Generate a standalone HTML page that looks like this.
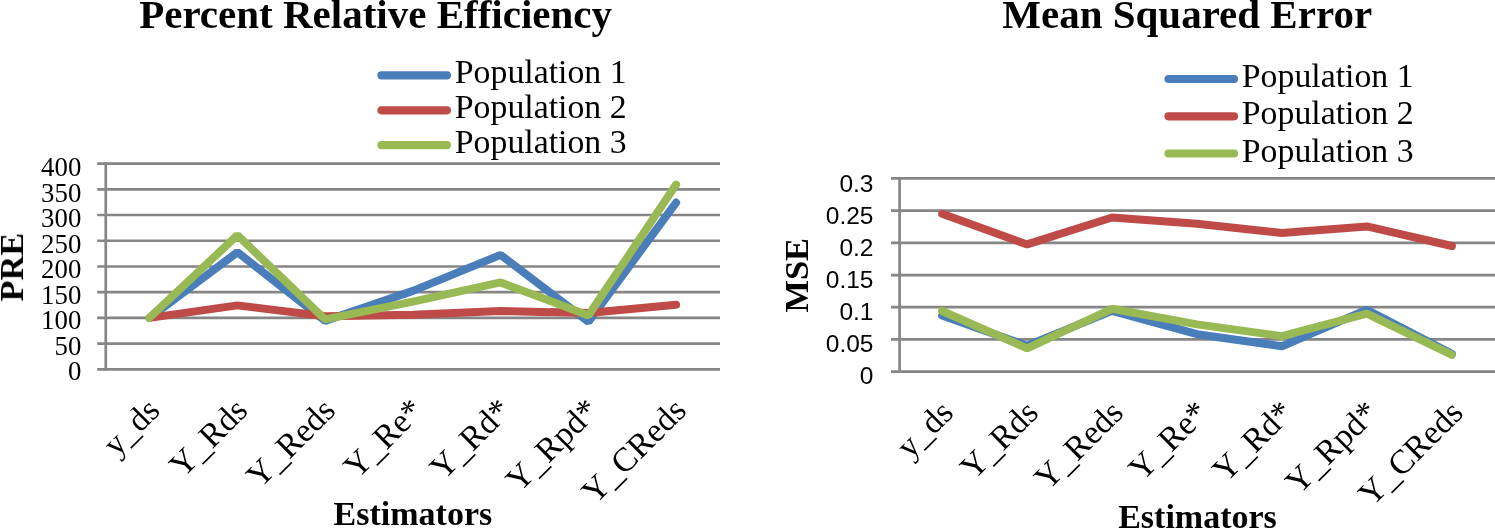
<!DOCTYPE html>
<html><head><meta charset="utf-8"><title>Charts</title>
<style>html,body{margin:0;padding:0;background:#fff;}svg{display:block}</style>
</head><body>
<svg width="1495" height="529" viewBox="0 0 1495 529">
<rect width="1495" height="529" fill="#fff"/>
<g style="opacity:0.999">
<line x1="97.2" y1="369.40" x2="720" y2="369.40" stroke="#868686" stroke-width="2.7"/>
<line x1="97.2" y1="343.67" x2="720" y2="343.67" stroke="#868686" stroke-width="2.7"/>
<line x1="97.2" y1="317.94" x2="720" y2="317.94" stroke="#868686" stroke-width="2.7"/>
<line x1="97.2" y1="292.21" x2="720" y2="292.21" stroke="#868686" stroke-width="2.7"/>
<line x1="97.2" y1="266.48" x2="720" y2="266.48" stroke="#868686" stroke-width="2.7"/>
<line x1="97.2" y1="240.75" x2="720" y2="240.75" stroke="#868686" stroke-width="2.7"/>
<line x1="97.2" y1="215.02" x2="720" y2="215.02" stroke="#868686" stroke-width="2.7"/>
<line x1="97.2" y1="189.29" x2="720" y2="189.29" stroke="#868686" stroke-width="2.7"/>
<line x1="97.2" y1="163.56" x2="720" y2="163.56" stroke="#868686" stroke-width="2.7"/>
<line x1="105.75" y1="162.21" x2="105.75" y2="370.75" stroke="#868686" stroke-width="2.7"/>
<polyline points="149.6,317.9 237.4,252.2 325.1,320.9 412.9,290.9 500.6,254.9 588.4,321.8 676.1,202.6" fill="none" stroke="#4a7ebb" stroke-width="8.0" stroke-linejoin="bevel" stroke-linecap="round"/>
<polyline points="149.6,317.9 237.4,305.4 325.1,316.2 412.9,314.7 500.6,311.0 588.4,313.0 676.1,304.8" fill="none" stroke="#be4b48" stroke-width="8.0" stroke-linejoin="bevel" stroke-linecap="round"/>
<polyline points="149.6,317.7 237.4,235.2 325.1,319.3 412.9,301.6 500.6,282.4 588.4,315.4 676.1,184.6" fill="none" stroke="#98b954" stroke-width="8.0" stroke-linejoin="bevel" stroke-linecap="round"/>
<line x1="891" y1="371.60" x2="1495" y2="371.60" stroke="#868686" stroke-width="2.7"/>
<line x1="891" y1="339.41" x2="1495" y2="339.41" stroke="#868686" stroke-width="2.7"/>
<line x1="891" y1="307.22" x2="1495" y2="307.22" stroke="#868686" stroke-width="2.7"/>
<line x1="891" y1="275.03" x2="1495" y2="275.03" stroke="#868686" stroke-width="2.7"/>
<line x1="891" y1="242.84" x2="1495" y2="242.84" stroke="#868686" stroke-width="2.7"/>
<line x1="891" y1="210.65" x2="1495" y2="210.65" stroke="#868686" stroke-width="2.7"/>
<line x1="891" y1="178.46" x2="1495" y2="178.46" stroke="#868686" stroke-width="2.7"/>
<line x1="899.6" y1="177.11" x2="899.6" y2="372.95" stroke="#868686" stroke-width="2.7"/>
<polyline points="942.1,315.5 1027.1,345.8 1112.0,310.8 1197.0,334.2 1282.0,346.2 1366.9,309.8 1451.9,353.9" fill="none" stroke="#4a7ebb" stroke-width="8.0" stroke-linejoin="bevel" stroke-linecap="round"/>
<polyline points="942.1,213.8 1027.1,244.4 1112.0,217.5 1197.0,223.7 1282.0,233.0 1366.9,226.4 1451.9,246.0" fill="none" stroke="#be4b48" stroke-width="8.0" stroke-linejoin="bevel" stroke-linecap="round"/>
<polyline points="942.1,311.0 1027.1,348.4 1112.0,308.8 1197.0,324.4 1282.0,336.1 1366.9,313.7 1451.9,354.9" fill="none" stroke="#98b954" stroke-width="8.0" stroke-linejoin="bevel" stroke-linecap="round"/>
<text x="375.6" y="27.5" text-anchor="middle" font-family='"Liberation Serif", serif' font-weight="bold" font-size="41">Percent Relative Efficiency</text>
<text x="1187.2" y="28.1" text-anchor="middle" font-family='"Liberation Serif", serif' font-weight="bold" font-size="41">Mean Squared Error</text>
<line x1="381.5" y1="75.4" x2="446.9" y2="75.4" stroke="#4a7ebb" stroke-width="8.2" stroke-linecap="round"/>
<text x="454.8" y="83.3" font-family='"Liberation Serif", serif' font-size="33.8">Population 1</text>
<line x1="381.5" y1="110.3" x2="446.9" y2="110.3" stroke="#be4b48" stroke-width="8.2" stroke-linecap="round"/>
<text x="454.8" y="118.2" font-family='"Liberation Serif", serif' font-size="33.8">Population 2</text>
<line x1="381.5" y1="145.2" x2="446.9" y2="145.2" stroke="#98b954" stroke-width="8.2" stroke-linecap="round"/>
<text x="454.8" y="153.1" font-family='"Liberation Serif", serif' font-size="33.8">Population 3</text>
<line x1="1168.5" y1="79" x2="1234" y2="79" stroke="#4a7ebb" stroke-width="8.2" stroke-linecap="round"/>
<text x="1241.8" y="87.4" font-family='"Liberation Serif", serif' font-size="33.8">Population 1</text>
<line x1="1168.5" y1="116.3" x2="1234" y2="116.3" stroke="#be4b48" stroke-width="8.2" stroke-linecap="round"/>
<text x="1241.8" y="124.4" font-family='"Liberation Serif", serif' font-size="33.8">Population 2</text>
<line x1="1168.5" y1="153.5" x2="1234" y2="153.5" stroke="#98b954" stroke-width="8.2" stroke-linecap="round"/>
<text x="1241.8" y="161.6" font-family='"Liberation Serif", serif' font-size="33.8">Population 3</text>
<text x="81.3" y="380.1" text-anchor="end" font-family='"Liberation Serif", serif' font-size="26.8">0</text>
<text x="81.3" y="354.6" text-anchor="end" font-family='"Liberation Serif", serif' font-size="26.8">50</text>
<text x="81.3" y="329.1" text-anchor="end" font-family='"Liberation Serif", serif' font-size="26.8">100</text>
<text x="81.3" y="303.6" text-anchor="end" font-family='"Liberation Serif", serif' font-size="26.8">150</text>
<text x="81.3" y="278.1" text-anchor="end" font-family='"Liberation Serif", serif' font-size="26.8">200</text>
<text x="81.3" y="252.6" text-anchor="end" font-family='"Liberation Serif", serif' font-size="26.8">250</text>
<text x="81.3" y="227.1" text-anchor="end" font-family='"Liberation Serif", serif' font-size="26.8">300</text>
<text x="81.3" y="201.6" text-anchor="end" font-family='"Liberation Serif", serif' font-size="26.8">350</text>
<text x="81.3" y="176.1" text-anchor="end" font-family='"Liberation Serif", serif' font-size="26.8">400</text>
<text x="873.5" y="383.8" text-anchor="end" font-family='"Liberation Sans", sans-serif' font-size="24.5">0</text>
<text x="873.5" y="351.9" text-anchor="end" font-family='"Liberation Sans", sans-serif' font-size="24.5">0.05</text>
<text x="873.5" y="319.9" text-anchor="end" font-family='"Liberation Sans", sans-serif' font-size="24.5">0.1</text>
<text x="873.5" y="288.0" text-anchor="end" font-family='"Liberation Sans", sans-serif' font-size="24.5">0.15</text>
<text x="873.5" y="256.0" text-anchor="end" font-family='"Liberation Sans", sans-serif' font-size="24.5">0.2</text>
<text x="873.5" y="224.1" text-anchor="end" font-family='"Liberation Sans", sans-serif' font-size="24.5">0.25</text>
<text x="873.5" y="192.1" text-anchor="end" font-family='"Liberation Sans", sans-serif' font-size="24.5">0.3</text>
<text transform="translate(23,267.2) rotate(-90)" text-anchor="middle" font-family='"Liberation Serif", serif' font-weight="bold" font-size="34.2">PRE</text>
<text transform="translate(808,275.2) rotate(-90)" text-anchor="middle" font-family='"Liberation Serif", serif' font-weight="bold" font-size="34.4">MSE</text>
<text x="412.9" y="524.7" text-anchor="middle" font-family='"Liberation Serif", serif' font-weight="bold" font-size="34">Estimators</text>
<text x="1197.5" y="527.8" text-anchor="middle" font-family='"Liberation Serif", serif' font-weight="bold" font-size="34">Estimators</text>
<text transform="translate(161.6,412.3) rotate(-45)" text-anchor="end" font-family='"Liberation Serif", serif' font-size="33.8">y_ds</text>
<text transform="translate(249.4,412.3) rotate(-45)" text-anchor="end" font-family='"Liberation Serif", serif' font-size="33.8">Y_Rds</text>
<text transform="translate(337.1,412.3) rotate(-45)" text-anchor="end" font-family='"Liberation Serif", serif' font-size="33.8">Y_Reds</text>
<text transform="translate(424.9,412.3) rotate(-45)" text-anchor="end" font-family='"Liberation Serif", serif' font-size="33.8">Y_Re*</text>
<text transform="translate(512.6,412.3) rotate(-45)" text-anchor="end" font-family='"Liberation Serif", serif' font-size="33.8">Y_Rd*</text>
<text transform="translate(600.4,412.3) rotate(-45)" text-anchor="end" font-family='"Liberation Serif", serif' font-size="33.8">Y_Rpd*</text>
<text transform="translate(688.1,412.3) rotate(-45)" text-anchor="end" font-family='"Liberation Serif", serif' font-size="33.8">Y_CReds</text>
<text transform="translate(955.1,414.5) rotate(-45)" text-anchor="end" font-family='"Liberation Serif", serif' font-size="33.8">y_ds</text>
<text transform="translate(1040.1,414.5) rotate(-45)" text-anchor="end" font-family='"Liberation Serif", serif' font-size="33.8">Y_Rds</text>
<text transform="translate(1125.0,414.5) rotate(-45)" text-anchor="end" font-family='"Liberation Serif", serif' font-size="33.8">Y_Reds</text>
<text transform="translate(1210.0,414.5) rotate(-45)" text-anchor="end" font-family='"Liberation Serif", serif' font-size="33.8">Y_Re*</text>
<text transform="translate(1295.0,414.5) rotate(-45)" text-anchor="end" font-family='"Liberation Serif", serif' font-size="33.8">Y_Rd*</text>
<text transform="translate(1379.9,414.5) rotate(-45)" text-anchor="end" font-family='"Liberation Serif", serif' font-size="33.8">Y_Rpd*</text>
<text transform="translate(1464.9,414.5) rotate(-45)" text-anchor="end" font-family='"Liberation Serif", serif' font-size="33.8">Y_CReds</text>
</g>
</svg>
</body></html>
